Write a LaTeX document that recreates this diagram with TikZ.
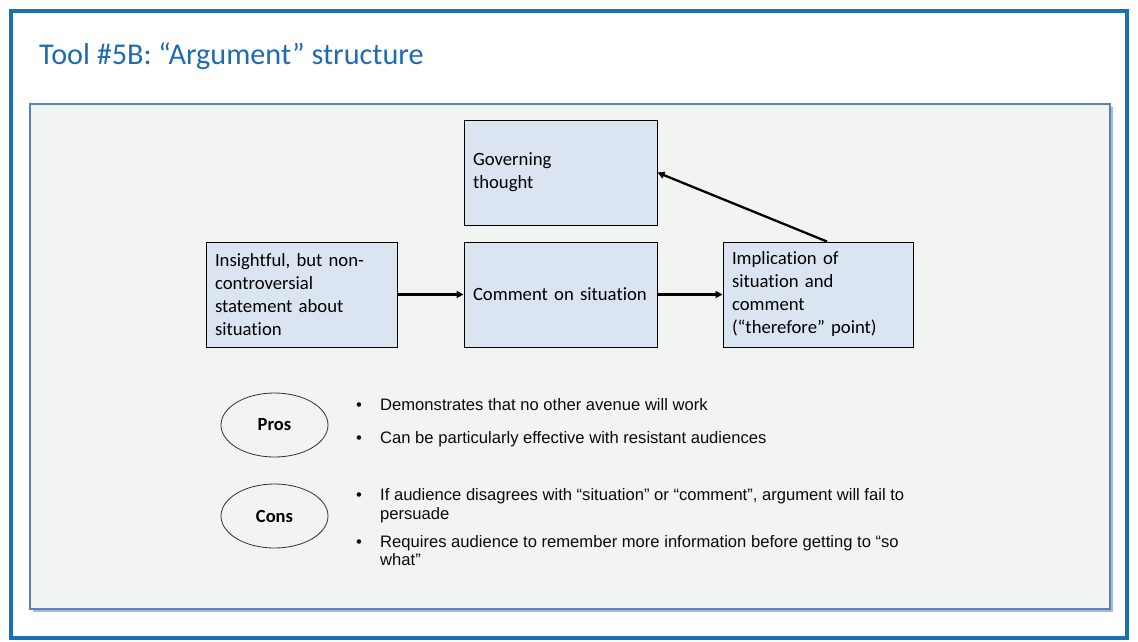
\documentclass[tikz,border=0pt]{standalone}
\usepackage{fontspec}
\setmainfont{Carlito}[Ligatures=NoCommon]
\newfontfamily\arialfont{Liberation Sans}
\usetikzlibrary{shapes.geometric,arrows.meta}
\definecolor{frameblue}{HTML}{1A6FB5}
\definecolor{titleblue}{HTML}{1F6BB0}
\definecolor{panelfill}{HTML}{F2F4F4}
\definecolor{paneldraw}{HTML}{5A80BF}
\definecolor{shadowblue}{HTML}{A9B8D6}
\definecolor{boxfill}{HTML}{DBE5F1}
\definecolor{bullettext}{HTML}{0A0A0A}
\tikzset{
  box/.style={draw=black, line width=0.9pt, fill=boxfill, minimum height=105,
    inner xsep=9, inner ysep=0, align=left, anchor=center,
    font=\fontsize{18.7}{23}\selectfont},
  arr/.style={line width=2.3pt, -{Triangle[length=7pt,width=7pt]}},
  oval/.style={ellipse, draw=black!80, line width=0.8pt, minimum width=107,
    minimum height=64, inner sep=0, font=\bfseries\fontsize{18.5}{20}\selectfont},
  bl/.style={anchor=base west, inner sep=0, text=bullettext,
    font=\arialfont\fontsize{16.6}{18.5}\selectfont},
  dot/.style={anchor=base west, inner sep=0, text=bullettext,
    font=\arialfont\fontsize{16.6}{18.5}\selectfont}
}
\begin{document}
\begin{tikzpicture}[x=1pt,y=-1pt]
\useasboundingbox (0,0) rectangle (1138,641);
\fill[white] (0,0) rectangle (1138,641);
% outer frame
\draw[frameblue, line width=4pt] (11,11) rectangle (1127,638);
% title
\node[anchor=base west, inner sep=0, text=titleblue,
  font=\fontsize{30.2}{32}\selectfont] (title) at (39,64)
  {Tool \#5B: “Argument” structure};
% panel with shadow
\fill[shadowblue] (33,107) rectangle (1113,612);
\filldraw[fill=panelfill, draw=paneldraw, line width=1.2pt] (30,104) rectangle (1110,609);
% boxes
\node[box, text width=175] (gov) at (560.5,172.5) {Governing\\thought};
\node[box, text width=173] (ins) at (301.5,294.5) {Insightful, but non-\\controversial\\statement about\\situation};
\node[box, text width=175] (com) at (560.5,294.5) {Comment on situation};
\node[box, text width=172] (imp) at (818,294.5) {Implication of\\situation and\\comment\\(“therefore” point)};
% arrows
\draw[arr] (ins.east) -- (com.west);
\draw[arr] (com.east) -- (imp.west);
\draw[arr] ([xshift=9pt]imp.north) -- (gov.east);
% ovals
\node[oval] (pros) at (274.5,425) {Pros};
\node[oval] (cons) at (274.5,516) {Cons};
% bullets
\node[dot] (d1) at (356,410.5) {•};
\node[bl] (p1) at (380,410.5) {Demonstrates that no other avenue will work};
\node[dot] (d2) at (356,443) {•};
\node[bl] (p2) at (380,443) {Can be particularly effective with resistant audiences};
\node[dot] (d3) at (356,500.5) {•};
\node[bl] (c1a) at (380,500.5) {If audience disagrees with “situation” or “comment”, argument will fail to};
\node[bl] (c1b) at (380,519) {persuade};
\node[dot] (d4) at (356,547) {•};
\node[bl] (c2a) at (380,547) {Requires audience to remember more information before getting to “so};
\node[bl] (c2b) at (380,565.5) {what”};
\end{tikzpicture}
\end{document}
